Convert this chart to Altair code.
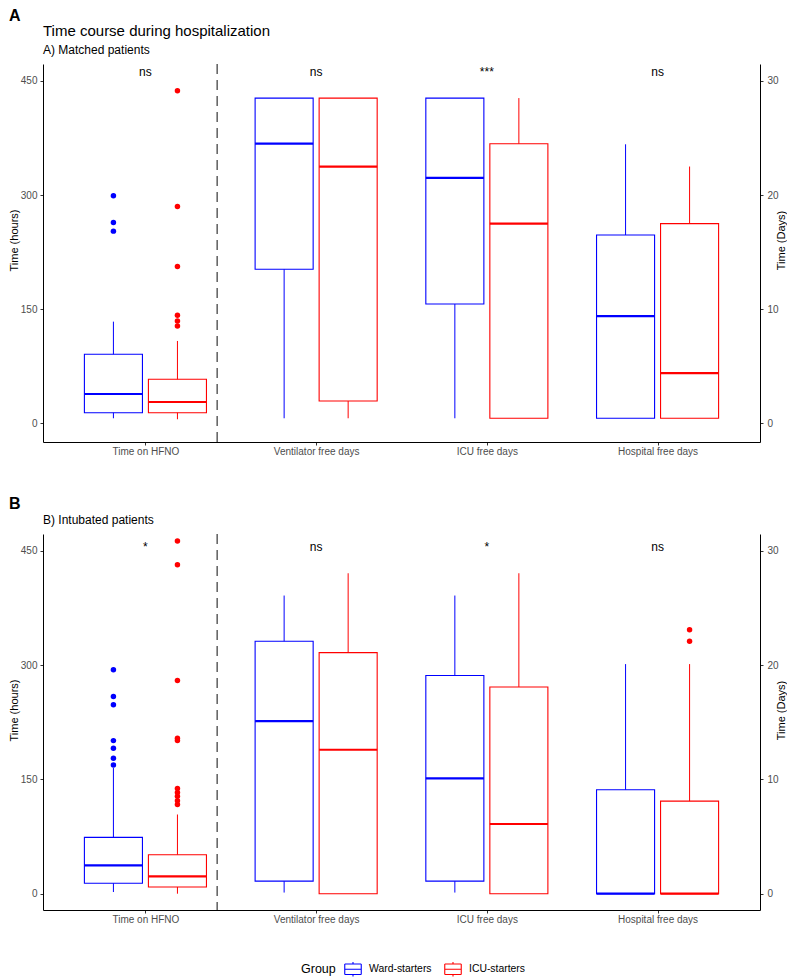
import altair as alt
import pandas as pd

FONT = "Liberation Sans"

CATS = ["Time on HFNO", "Ventilator free days", "ICU free days", "Hospital free days"]
GROUPS = ["Ward-starters", "ICU-starters"]
GROUP_COLORS = ["#0000FF", "#FF0000"]
# HFNO is in hours; the free-day outcomes are in days (secondary axis: hours = days * 15)
HOURS_PER_UNIT = [1, 15, 15, 15]
HOURS_TICKS = [0, 150, 300, 450]
DAYS_TICKS = [0, 10, 20, 30]

# ---- Panel A: matched patients (lo whisker, q1, median, q3, hi whisker)
A_WARD_LO = [6.6, 0.44, 0.44, 0.44]
A_WARD_Q1 = [13.9, 13.5, 10.45, 0.44]
A_WARD_MED = [38.5, 24.5, 21.5, 9.4]
A_WARD_Q3 = [90.7, 28.5, 28.5, 16.5]
A_WARD_HI = [133.6, 28.5, 28.5, 24.45]
A_ICU_LO = [5.3, 0.44, 0.44, 0.44]
A_ICU_Q1 = [13.9, 1.95, 0.44, 0.44]
A_ICU_MED = [28.0, 22.5, 17.5, 4.4]
A_ICU_Q3 = [57.8, 28.5, 24.5, 17.5]
A_ICU_HI = [108.2, 28.5, 28.5, 22.5]
A_WARD_OUT_HFNO = [299, 264, 252.6]
A_ICU_OUT_HFNO = [437, 285, 206, 142, 134.5, 128]
A_SIG = ["ns", "ns", "***", "ns"]
A_SIG_Y = 462
A_Y_RANGE = [-24.6, 472.3]

# ---- Panel B: intubated patients
B_WARD_LO = [2.2, 0.1, 0.1, 0.0]
B_WARD_Q1 = [13.7, 1.1, 1.1, 0.0]
B_WARD_MED = [37.3, 15.1, 10.1, 0.0]
B_WARD_Q3 = [74.0, 22.1, 19.1, 9.1]
B_WARD_HI = [165.0, 26.1, 26.1, 20.1]
B_ICU_LO = [0.0, 0.0, 0.0, 0.0]
B_ICU_Q1 = [8.8, 0.0, 0.0, 0.0]
B_ICU_MED = [22.8, 12.6, 6.1, 0.0]
B_ICU_Q3 = [51.2, 21.1, 18.1, 8.1]
B_ICU_HI = [104.0, 28.05, 28.05, 20.1]
B_WARD_OUT_HFNO = [294, 259, 248, 201, 191, 178, 169]
B_ICU_OUT_HFNO = [463, 432, 280, 204, 201, 138, 133, 128, 122, 117]
B_ICU_OUT_HOSP = [23.1, 22.1]
B_SIG = ["*", "ns", "*", "ns"]
B_SIG_Y = 455
B_Y_RANGE = [-21.4, 472.3]

DIVIDER_AT = 1.42
DODGE = 0.375
BOX_W = 0.34
PLOT_W = 717

LABEL_EXPR = "[" + ",".join("'" + c + "'" for c in CATS) + "][datum.value - 1]"

# boxplot key drawn as separate line segments (no enclosed area, so no fill shows)
BOX_GLYPH = ("M-1,-0.64L1,-0.64 M1,-0.64L1,0.64 M1,0.64L-1,0.64 M-1,0.64L-1,-0.64 "
             "M-1,0L1,0 M0,-0.64L0,-0.88 M0,0.64L0,0.88")

LEGEND = alt.Legend(
    title="Group", orient="none", legendX=258, legendY=896,
    direction="horizontal", titleOrient="left",
    symbolType=BOX_GLYPH, symbolSize=272, symbolStrokeWidth=1.1,
    symbolFillColor="white",
    labelFont=FONT, labelFontSize=10.4, labelColor="black",
    titleFont=FONT, titleFontSize=12.5, titleFontWeight="normal", titleColor="black",
    titlePadding=8, labelOffset=7, columnPadding=10,
)


def box_frame(stats):
    rows = []
    for gi, (g, st) in enumerate(zip(GROUPS, stats)):
        lo, q1, med, q3, hi = st
        for ci, c in enumerate(CATS):
            k = HOURS_PER_UNIT[ci]
            pos = ci + 1 + (gi - 0.5) * DODGE
            rows.append({
                "cat": c, "group": g, "pos": pos,
                "left": pos - BOX_W / 2, "right": pos + BOX_W / 2,
                "lo": lo[ci] * k, "q1": q1[ci] * k, "med": med[ci] * k,
                "q3": q3[ci] * k, "hi": hi[ci] * k,
            })
    return pd.DataFrame(rows)


def out_frame(outs):
    rows = []
    for ci, gi, vals in outs:
        k = HOURS_PER_UNIT[ci]
        pos = ci + 1 + (gi - 0.5) * DODGE
        for v in vals:
            rows.append({"group": GROUPS[gi], "pos": pos, "val": v * k})
    return pd.DataFrame(rows)


def panel(box_df, out_df, sig, sig_y, yrange, height, letter, letter_y, lines):
    xs = alt.Scale(domain=[0.4, 4.6], nice=False, zero=False)
    ys = alt.Scale(domain=yrange, nice=False, zero=False)
    xax = alt.Axis(title=None, values=[1, 2, 3, 4], labelExpr=LABEL_EXPR,
                   labelFlush=False, labelOverlap=False, tickSize=3, labelPadding=1,
                   labelFontSize=10)
    yax = alt.Axis(title="Time (hours)", values=HOURS_TICKS, tickSize=3, labelPadding=3,
                   labelFontSize=10, titleFontSize=11, titlePadding=1, titleY=176)
    group_scale = alt.Scale(domain=GROUPS, range=GROUP_COLORS)
    stroke = alt.Stroke("group:N", scale=group_scale, legend=LEGEND)
    color = alt.Color("group:N", scale=group_scale, legend=None)

    def X(f):
        return alt.X(f, scale=xs, axis=xax)

    def Y(f):
        return alt.Y(f, scale=ys, axis=yax)

    base = alt.Chart(box_df)
    box = base.mark_rect(fill="white", strokeWidth=1.1).encode(
        x=X("left:Q"), x2="right:Q", y=Y("q1:Q"), y2="q3:Q", stroke=stroke)
    wlo = base.mark_rule(strokeWidth=1).encode(x=X("pos:Q"), y=Y("lo:Q"), y2="q1:Q", color=color)
    whi = base.mark_rule(strokeWidth=1).encode(x=X("pos:Q"), y=Y("q3:Q"), y2="hi:Q", color=color)
    med = base.mark_rule(strokeWidth=2.2).encode(
        x=X("left:Q"), x2="right:Q", y=Y("med:Q"), color=color)
    pts = alt.Chart(out_df).mark_circle(size=30, opacity=1).encode(
        x=X("pos:Q"), y=Y("val:Q"), color=color)
    sig_df = pd.DataFrame({"pos": [1, 2, 3, 4], "label": sig, "y": [sig_y] * 4})
    sigs = alt.Chart(sig_df).mark_text(font=FONT, fontSize=12, baseline="middle", color="black").encode(
        x=X("pos:Q"), y=Y("y:Q"), text="label:N")
    vline = alt.Chart(pd.DataFrame({"x": [DIVIDER_AT]})).mark_rule(
        strokeDash=[10, 6], color="#222222", strokeWidth=1.1).encode(x=X("x:Q"))

    headers = [
        alt.Chart(pd.DataFrame({"t": [letter]})).mark_text(
            font=FONT, fontSize=16, fontWeight="bold", align="left", baseline="top", color="black"
        ).encode(x=alt.value(-34), y=alt.value(letter_y), text="t:N")
    ]
    for txt, size, yb in lines:
        headers.append(
            alt.Chart(pd.DataFrame({"t": [txt]})).mark_text(
                font=FONT, fontSize=size, align="left", baseline="alphabetic", color="black"
            ).encode(x=alt.value(0), y=alt.value(yb), text="t:N"))

    inner = alt.layer(box, vline, wlo, whi, med, pts, sigs, *headers)
    right = alt.Chart(pd.DataFrame({"d": [0]})).mark_point(opacity=0).encode(
        y=alt.Y("d:Q", scale=alt.Scale(domain=[yrange[0] / 15, yrange[1] / 15], nice=False, zero=False),
                axis=alt.Axis(orient="right", title="Time  (Days)", values=DAYS_TICKS, tickSize=3,
                              labelPadding=4, labelFontSize=10, titleFontSize=11, titleAngle=270,
                              titlePadding=8, titleY=176)))
    return alt.layer(inner, right).resolve_scale(y="independent").properties(width=PLOT_W, height=height)


A_box = box_frame([(A_WARD_LO, A_WARD_Q1, A_WARD_MED, A_WARD_Q3, A_WARD_HI),
                   (A_ICU_LO, A_ICU_Q1, A_ICU_MED, A_ICU_Q3, A_ICU_HI)])
A_out = out_frame([(0, 0, A_WARD_OUT_HFNO), (0, 1, A_ICU_OUT_HFNO)])
B_box = box_frame([(B_WARD_LO, B_WARD_Q1, B_WARD_MED, B_WARD_Q3, B_WARD_HI),
                   (B_ICU_LO, B_ICU_Q1, B_ICU_MED, B_ICU_Q3, B_ICU_HI)])
B_out = out_frame([(0, 0, B_WARD_OUT_HFNO), (0, 1, B_ICU_OUT_HFNO), (3, 1, B_ICU_OUT_HOSP)])

panel_a = panel(A_box, A_out, A_SIG, A_SIG_Y, A_Y_RANGE, 378, "A", -56,
                [("Time course during hospitalization", 15, -28.3), ("A) Matched patients", 12, -9.7)])
panel_b = panel(B_box, B_out, B_SIG, B_SIG_Y, B_Y_RANGE, 376, "B", -38.2,
                [("B) Intubated patients", 12, -9.7)])

chart = alt.vconcat(panel_a, panel_b, spacing=39).properties(padding=0).configure_view(
    stroke=None
).configure_axis(
    grid=False, domainColor="black", domainWidth=1, tickColor="#333333", tickWidth=1,
    labelColor="#4D4D4D", labelFont=FONT, titleFont=FONT, titleFontWeight="normal",
    titleColor="black",
)

chart.save("out.html", embed_options={"renderer": "svg", "actions": False})
